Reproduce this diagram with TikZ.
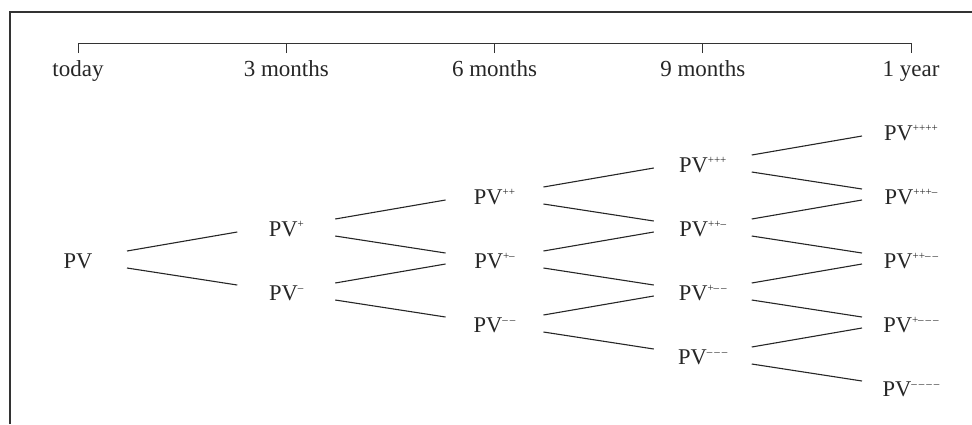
\documentclass[tikz,border=0pt]{standalone}
\usepackage{fontspec}
\setmainfont{Liberation Serif}
\usetikzlibrary{calc}
\newcommand\pvs[1]{PV\raisebox{0.40em}{\fontsize{11}{11}\selectfont #1}}
\newcommand\mn{\textendash}
\newcommand\gp{\hspace{2pt}}
\begin{document}
\begin{tikzpicture}[x=1pt,y=-1pt,
  lbl/.style={font=\fontsize{23}{25}\selectfont, text=black!85, inner sep=0pt, anchor=base},
  pvnode/.style={font=\fontsize{22.5}{24}\selectfont, text=black!85, inner sep=0pt, anchor=base},
  edge/.style={draw=black!85, line width=1.1pt},
  axis/.style={draw=black!80, line width=1pt},
  frame/.style={draw=black!80, line width=1.5pt}]
\useasboundingbox (0,0) rectangle (972,424);
% frame
\coordinate (f1) at (10,424);
\coordinate (f2) at (10,12);
\coordinate (f3) at (972,12);
\draw[frame] (f1) -- (f2) -- (f3);
% timeline
\coordinate (t0) at (78,53);
\coordinate (t1) at (286.25,53);
\coordinate (t2) at (494.5,53);
\coordinate (t3) at (702.75,53);
\coordinate (t4) at (911,53);
\draw[axis] (t0) -- ++(0,-9.5) -| (t4);
\foreach \i in {1,2,3} \draw[axis] (t\i) -- ++(0,-9.5);
\node[lbl] (l0) at (78,76) {today};
\node[lbl] (l1) at (286.25,76) {3 months};
\node[lbl] (l2) at (494.5,76) {6 months};
\node[lbl] (l3) at (702.75,76) {9 months};
\node[lbl] (l4) at (911,76) {1 year};
% nodes
\node[pvnode] (a) at (78,268) {PV};
\node[pvnode] (b1) at (286.25,236) {\pvs{+}};
\node[pvnode] (b2) at (286.25,300) {\pvs{\mn}};
\node[pvnode] (c1) at (494.5,204) {\pvs{++}};
\node[pvnode] (c2) at (494.5,268) {\pvs{+\mn}};
\node[pvnode] (c3) at (494.5,332) {\pvs{\mn\gp\mn}};
\node[pvnode] (d1) at (702.75,172) {\pvs{+++}};
\node[pvnode] (d2) at (702.75,236) {\pvs{++\mn}};
\node[pvnode] (d3) at (702.75,300) {\pvs{+\mn\gp\mn}};
\node[pvnode] (d4) at (702.75,364) {\pvs{\mn\gp\mn\gp\mn}};
\node[pvnode] (e1) at (911,140) {\pvs{++++}};
\node[pvnode] (e2) at (911,204) {\pvs{+++\mn}};
\node[pvnode] (e3) at (911,268) {\pvs{++\mn\gp\mn}};
\node[pvnode] (e4) at (911,332) {\pvs{+\mn\gp\mn\gp\mn}};
\node[pvnode] (e5) at (911,396) {\pvs{\mn\gp\mn\gp\mn\gp\mn}};
% edges
\newcommand\upedge[2]{\draw[edge] ($(#1.base)+(49,-17)$) -- ($(#2.base)+(-49,-4)$);}
\newcommand\dnedge[2]{\draw[edge] ($(#1.base)+(49,0)$) -- ($(#2.base)+(-49,-15)$);}
\upedge{a}{b1}\dnedge{a}{b2}
\upedge{b1}{c1}\dnedge{b1}{c2}
\upedge{b2}{c2}\dnedge{b2}{c3}
\upedge{c1}{d1}\dnedge{c1}{d2}
\upedge{c2}{d2}\dnedge{c2}{d3}
\upedge{c3}{d3}\dnedge{c3}{d4}
\upedge{d1}{e1}\dnedge{d1}{e2}
\upedge{d2}{e2}\dnedge{d2}{e3}
\upedge{d3}{e3}\dnedge{d3}{e4}
\upedge{d4}{e4}\dnedge{d4}{e5}
\end{tikzpicture}
\end{document}
